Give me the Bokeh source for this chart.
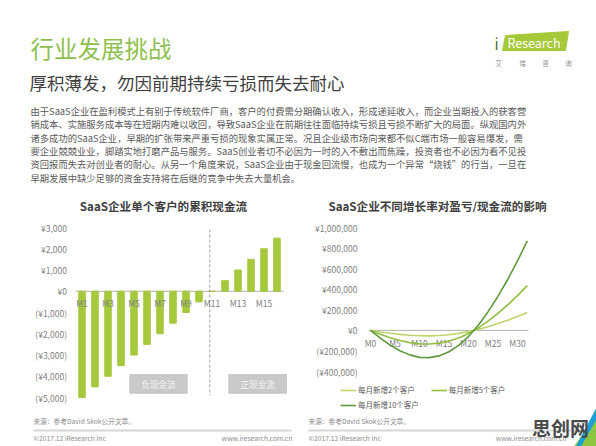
from bokeh.plotting import figure
from bokeh.models import Range1d, Legend, LegendItem
from bokeh.layouts import column, row
from bokeh.embed import file_html
from bokeh.resources import INLINE
from bokeh.core.properties import value

FONT = "Noto Sans CJK SC"

# ---------------- texts ----------------
page_title = "行业发展挑战"
page_subtitle = "厚积薄发，勿因前期持续亏损而失去耐心"
body_lines = [
    "由于SaaS企业在盈利模式上有别于传统软件厂商，客户的付费需分期确认收入，形成递延收入，而企业当期投入的获客营",
    "销成本、实施服务成本等在短期内难以收回，导致SaaS企业在前期往往面临持续亏损且亏损不断扩大的局面。纵观国内外",
    "诸多成功的SaaS企业，早期的扩张带来严重亏损的现象实属正常。况且企业级市场向来都不似C端市场一般容易爆发，需",
    "要企业兢兢业业，脚踏实地打磨产品与服务。SaaS创业者切不必因为一时的入不敷出而焦躁，投资者也不必因为看不见投",
    "资回报而失去对创业者的耐心。从另一个角度来说，SaaS企业由于现金回流慢，也成为一个异常“烧钱”的行当，一旦在",
    "早期发展中缺少足够的资金支持将在后继的竞争中失去大量机会。",
]
left_title = "SaaS企业单个客户的累积现金流"
right_title = "SaaS企业不同增长率对盈亏/现金流的影响"
source_text = "来源：参考David Skok公开文章。"
copyright_text = "©2017.12 iResearch Inc"
url_text = "www.iresearch.com.cn"

# ---------------- left chart data ----------------
left_months = [1, 2, 3, 4, 5, 6, 7, 8, 9, 10, 11, 12, 13, 14, 15, 16]
left_cash = [-5000, -4500, -4000, -3500, -3000, -2500, -2000, -1500,
             -1000, -500, 0, 500, 1000, 1500, 2000, 2500]
left_xtick_pos = [1, 3, 5, 7, 9, 11, 13, 15]
left_xtick_labels = ["M1", "M3", "M5", "M7", "M9", "M11", "M13", "M15"]
left_yticks = [-5000, -4000, -3000, -2000, -1000, 0, 1000, 2000, 3000]
left_ylabels = ["(¥5,000)", "(¥4,000)", "(¥3,000)", "(¥2,000)", "(¥1,000)",
                "¥0", "¥1,000", "¥2,000", "¥3,000"]
neg_label = "负现金流"
pos_label = "正现金流"

# ---------------- right chart data ----------------
right_months = [0, 2, 4, 6, 8, 10, 12, 14, 16, 18, 20, 22, 24, 26, 28, 30, 32]
grow_2 = [0, -15000, -28000, -39000, -47000, -52000, -53000, -50000, -42000,
          -29000, -12000, 10000, 36000, 66000, 99000, 135000, 174000]
grow_5 = [0, -38000, -71000, -99000, -119000, -131000, -132000, -124000, -104000,
          -73000, -30000, 25000, 91000, 166000, 248000, 338000, 435000]
grow_10 = [0, -76000, -143000, -198000, -238000, -262000, -265000, -248000, -208000,
           -146000, -60000, 50000, 182000, 330000, 495000, 675000, 870000]
series_labels = ["每月新增2个客户", "每月新增5个客户", "每月新增10个客户"]
right_xtick_pos = [0, 5, 10, 15, 20, 25, 30]
right_xtick_labels = ["M0", "M5", "M10", "M15", "M20", "M25", "M30"]
right_yticks = [-400000, -200000, 0, 200000, 400000, 600000, 800000, 1000000]
right_ylabels = ["(¥400,000)", "(¥200,000)", "¥0", "¥200,000", "¥400,000",
                 "¥600,000", "¥800,000", "¥1,000,000"]

GREEN_BAR = "#a5c83d"
LINE_COLORS = ["#bdd46e", "#93be3f", "#5f9a3e"]
AXIS_GRAY = "#7f7f7f"
FOOT_GRAY = "#8c8c8c"


def txt(p, x, y, s, size, color, align="left", style="normal"):
    p.text(x=[x], y=[y], text=[s], text_font=value(FONT), text_font_size=size,
           text_color=color, text_align=align, text_baseline="middle",
           text_font_style=style)


def bare_fig(w, h, xr, yr):
    return figure(width=w, height=h, x_range=Range1d(*xr), y_range=Range1d(*yr),
                  x_axis_type=None, y_axis_type=None, toolbar_location=None,
                  output_backend="svg", min_border=0, outline_line_color=None)


# ---------------- header (pixel canvas) ----------------
head = bare_fig(596, 212, (0, 596), (212, 0))
txt(head, 30, 47, page_title, "23.5px", "#8fc04f")
txt(head, 29, 82, page_subtitle, "17.5px", "#3f3f3f")
head.patch(x=[505, 568, 565, 502], y=[35, 31, 50, 50], color="#a6c93a")
txt(head, 507, 41.5, "Research", "12.5px", "#ffffff")
txt(head, 494, 42.5, "i", "15px", "#4f6f2a")
for cx, ch in zip([498, 522, 545, 568], ["艾", "瑞", "咨", "询"]):
    txt(head, cx, 62.5, ch, "6.5px", "#8c8c8c", align="center")
for i, line in enumerate(body_lines):
    txt(head, 30, 110.5 + i * 13.35, line, "9.3px", "#595959")
txt(head, 163, 205, left_title, "11.6px", "#404040", align="center", style="bold")
txt(head, 437, 205, right_title, "11.6px", "#404040", align="center", style="bold")

# ---------------- left chart (page y 212..446, x 0..298) ----------------
def lx(px):  # page pixel -> left data x
    return 0.5 + (px - 75) / 13.0


def ly(py):  # page pixel -> left data y
    return (290.75 - py) / 0.02125


pl = bare_fig(298, 234, (lx(0), lx(298)), (ly(446), ly(212)))
pl.text(x=[lx(66.5)] * len(left_yticks), y=left_yticks, text=left_ylabels,
        text_font=value(FONT), text_font_size="8.5px", text_color=AXIS_GRAY,
        text_align="right", text_baseline="middle")
pl.segment(x0=[0.5], y0=[0], x1=[16.5], y1=[0], line_color="#b0b0b0", line_width=1)
pl.vbar(x=left_months, top=left_cash, width=0.5, color=GREEN_BAR)
pl.segment(x0=[lx(209.3)], y0=[ly(229)], x1=[lx(209.3)], y1=[ly(395)],
           line_color="#9a9a9a", line_width=1, line_dash="3 2")
pl.text(x=left_xtick_pos, y=[0] * len(left_xtick_pos), text=left_xtick_labels,
        text_font=value(FONT), text_font_size="8.5px", text_color=AXIS_GRAY,
        text_align="center", text_baseline="middle", y_offset=12)
pl.quad(left=[lx(129.3), lx(228.3)], right=[lx(186.7), lx(286)],
        top=[ly(374)] * 2, bottom=[ly(392.7)] * 2, color="#c9c9c9")
pl.text(x=[lx(158), lx(257.2)], y=[ly(383.3)] * 2, text=[neg_label, pos_label],
        text_font=value(FONT), text_font_size="8.6px", text_color="#f4f4f4",
        text_align="center", text_baseline="middle")
# footer (left half)
txt(pl, lx(33), ly(420.7), source_text, "6.7px", FOOT_GRAY)
pl.segment(x0=[lx(33)], y0=[ly(430)], x1=[lx(291)], y1=[ly(430)],
           line_color="#d6d6d6", line_width=2)
txt(pl, lx(33), ly(437), copyright_text, "6.7px", FOOT_GRAY)
txt(pl, lx(292), ly(437), url_text, "6.7px", FOOT_GRAY, align="right")

# ---------------- right chart (page y 212..446, x 298..596) ----------------
def rx(px):  # page pixel -> right data x (months)
    return (px - 370) / 4.9


def ry(py):  # page pixel -> right data y
    return (329.9 - py) / 102.86 * 1e6


pr = bare_fig(298, 234, (rx(298), rx(596)), (ry(446), ry(212)))
pr.text(x=[rx(357)] * len(right_yticks), y=right_yticks, text=right_ylabels,
        text_font=value(FONT), text_font_size="8.5px", text_color=AXIS_GRAY,
        text_align="right", text_baseline="middle")
pr.segment(x0=[rx(368)], y0=[0], x1=[rx(528)], y1=[0], line_color="#b0b0b0", line_width=1)
pr.text(x=right_xtick_pos, y=[0] * len(right_xtick_pos), text=right_xtick_labels,
        text_font=value(FONT), text_font_size="8.5px", text_color=AXIS_GRAY,
        text_align="center", text_baseline="middle", y_offset=12.5)
r2 = pr.line(right_months, grow_2, line_color=LINE_COLORS[0], line_width=1.6)
r5 = pr.line(right_months, grow_5, line_color=LINE_COLORS[1], line_width=1.6)
r10 = pr.line(right_months, grow_10, line_color=LINE_COLORS[2], line_width=1.6)


def make_legend(items, loc):
    return Legend(items=items, location=loc, orientation="horizontal",
                  glyph_width=16, glyph_height=10, label_height=10,
                  label_standoff=2, spacing=16, padding=0, margin=0,
                  border_line_color=None, background_fill_alpha=0,
                  label_text_font=FONT, label_text_font_size="7.5px",
                  label_text_color="#595959")


pr.add_layout(make_legend([LegendItem(label=series_labels[0], renderers=[r2]),
                           LegendItem(label=series_labels[1], renderers=[r5])], (42, 51)))
pr.add_layout(make_legend([LegendItem(label=series_labels[2], renderers=[r10])], (42, 36)))

# footer (right half)
txt(pr, rx(308), ry(420.7), source_text, "6.7px", FOOT_GRAY)
pr.segment(x0=[rx(308)], y0=[ry(430)], x1=[rx(586)], y1=[ry(430)],
           line_color="#d6d6d6", line_width=2)
txt(pr, rx(308), ry(437), copyright_text, "6.7px", FOOT_GRAY)
txt(pr, rx(566), ry(437), url_text, "6.7px", FOOT_GRAY, align="right")
pr.patch(x=[rx(596), rx(596), rx(574)], y=[ry(414), ry(446), ry(446)], color="#8dc63f")
pr.patch(x=[rx(596), rx(596), rx(580), rx(576)], y=[ry(408), ry(418), ry(446), ry(446)],
         color="#1c9fd6")
txt(pr, rx(560), ry(427), "思创网", "19px", "#4a4a4a", align="center", style="bold")

layout = column(head, row(pl, pr))
open("out.html", "w").write(file_html(layout, INLINE))
